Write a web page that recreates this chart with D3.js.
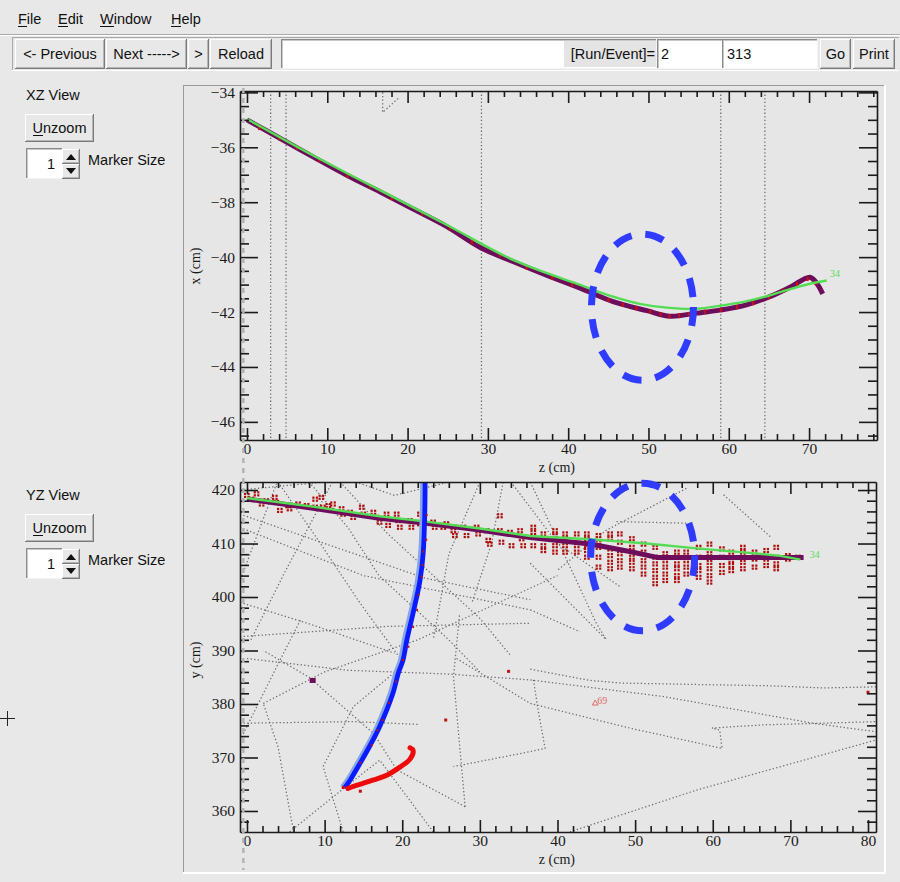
<!DOCTYPE html>
<html>
<head>
<meta charset="utf-8">
<script src="https://cdn.jsdelivr.net/npm/d3@7"></script>
<style>
  body { margin: 0; background: #e8e8e8; }
  svg { display: block; }
</style>
</head>
<body>
<svg id="c" width="900" height="882"></svg>
<script>
// ---------------- event data ----------------
const menuItems = ["File", "Edit", "Window", "Help"];
const navButtons = ["<- Previous", "Next ----->", ">", "Reload"];
const runLabel = "[Run/Event]=";
const runNumber = "2";
const eventNumber = "313";

// axis ticks
const xzTicksZ = [0, 10, 20, 30, 40, 50, 60, 70];
const xzTicksX = [-34, -36, -38, -40, -42, -44, -46];
const yzTicksZ = [0, 10, 20, 30, 40, 50, 60, 70, 80];
const yzTicksY = [360, 370, 380, 390, 400, 410, 420];

// wire-plane positions drawn in the XZ view (cm)
const xzWireZ = [2.95, 4.86, 29.2, 59.0, 64.5];
const xzStub = [[16.9, -34.0], [16.9, -34.73], [18.9, -34.2]];

// reconstructed track, XZ projection
const xzTrackZ = [0, 4.1, 8.3, 12.5, 16.6, 20.7, 24.9, 29.0, 33.2, 37.3, 41.5, 45.6, 49.8, 52.7, 56.0, 58.9, 62.2, 65.1, 67.6, 70.1, 70.9, 71.7];
const xzTrackX = [-35.00, -35.67, -36.36, -37.03, -37.63, -38.25, -38.89, -39.64, -40.17, -40.66, -41.13, -41.62, -41.95, -42.15, -42.04, -41.93, -41.74, -41.44, -41.10, -40.73, -40.93, -41.34];
// fitted trajectory (id 34), XZ projection
const xzFitZ = [0, 8.3, 16.6, 24.9, 33.2, 41.5, 45.6, 48.9, 52.3, 56.0, 58.9, 62.0, 64.3, 67.0, 70.1, 72.2];
const xzFitX = [-34.97, -36.31, -37.57, -38.83, -40.11, -41.01, -41.44, -41.70, -41.84, -41.88, -41.77, -41.62, -41.46, -41.22, -40.97, -40.85];
// hits on the XZ track
const xzHits = [[1.5, -35.30], [4.0, -35.68], [6.2, -36.02], [9.0, -36.47], [12.5, -37.05], [15.3, -37.42], [18.0, -37.85], [21.8, -38.42], [25.3, -38.95], [28.0, -39.45], [31.5, -39.93], [34.8, -40.38], [38.0, -40.75], [40.5, -41.02], [42.8, -41.30], [45.0, -41.56], [46.8, -41.74], [48.5, -41.86], [50.2, -41.98], [51.5, -42.08], [52.6, -42.15], [53.8, -42.12], [55.0, -42.08], [57.0, -41.98], [59.0, -41.92], [61.0, -41.82], [63.0, -41.68], [65.0, -41.46], [66.8, -41.22], [68.5, -40.98], [69.8, -40.80], [70.8, -40.95]];
const xzLabel = [72.6, -40.71, "34"];

// reconstructed track, YZ projection
const yzTrackZ = [0, 8.5, 17.1, 23.1, 30.0, 36.5, 44.2, 49.3, 52.8, 57.9, 64.4, 71.7];
const yzTrackY = [418.3, 416.6, 414.7, 413.8, 412.5, 411.1, 409.9, 408.5, 407.4, 407.4, 407.4, 407.4];
const yzFitZ = [0, 8.5, 17.1, 23.1, 30.0, 36.5, 44.2, 51.5, 57.9, 64.4, 68.7, 71.3];
const yzFitY = [418.5, 416.9, 415.1, 414.1, 412.8, 411.4, 410.8, 410.0, 409.1, 408.3, 407.7, 407.0];
const yzLabel = [72.5, 407.7, "34"];

// steep track (blue) and short shower (red), YZ projection
const blueTrack = [[12.6, 364.4], [13.3, 365.8], [14.6, 369.0], [15.8, 372.1], [17.1, 375.8], [18.8, 382.0], [19.5, 385.8], [20.1, 388.2], [20.6, 392.0], [21.4, 397.0], [22.3, 403.2], [22.7, 408.2], [22.9, 415.6], [22.95, 421.6]];
const blueHits = [[23.15, 415.3], [23.1, 410.7], [22.7, 408.5], [22.6, 406.0], [22.5, 403.8], [22.1, 400.4], [21.9, 397.6], [21.4, 394.4], [20.8, 390.7], [20.1, 388.2], [19.2, 384.2], [18.3, 380.2], [17.5, 377.0], [16.8, 375.1], [16.1, 372.3], [14.6, 369.0]];
const redShower = [[13.0, 364.2], [13.7, 364.6], [14.6, 365.0], [16.3, 365.8], [18.0, 366.7], [19.7, 368.2], [21.0, 369.7], [21.4, 371.3], [21.0, 371.8]];
const isolatedHits = [[33.7, 386.1], [25.6, 377.0], [14.6, 363.7], [80.0, 382.2], [12.4, 364.4]];
const purpleBlob = [8.46, 384.4];
const yzLabel69 = [44.6, 380.3, "69"];

// hit clusters around the YZ track
const yzHits = [
  [0.0, 419.1], [1.25, 419.4], [0.6, 418.4], [1.9, 417.5], [2.5, 418.1], [3.6, 418.75], [3.8, 417.8], [4.25, 416.3],
  [5.3, 417.2], [5.5, 416.6], [6.6, 417.5], [7.7, 417.2], [8.8, 418.4], [8.8, 416.9], [9.6, 418.75], [9.8, 416.9],
  [10.5, 417.2], [10.9, 416.3], [11.1, 417.5], [12.2, 416.6], [12.4, 415.6], [13.3, 415.95], [13.7, 415.0], [14.8, 416.9],
  [15.0, 415.6], [16.3, 415.95], [16.7, 415.0], [17.1, 414.1], [18.0, 415.6], [18.2, 413.5], [19.3, 415.6], [19.5, 414.4],
  [19.7, 413.15], [21.0, 414.4], [21.2, 413.15], [22.3, 415.6], [22.3, 413.8], [24.0, 414.1], [24.2, 413.15], [25.3, 413.15],
  [25.7, 413.8], [26.6, 412.5], [26.8, 411.6], [27.9, 413.15], [28.3, 411.6], [29.6, 413.15], [29.8, 411.9], [30.9, 412.5],
  [31.1, 410.7], [31.3, 410.0], [32.6, 415.3], [32.6, 412.5], [32.8, 410.35], [33.9, 412.2], [34.1, 409.7], [35.2, 412.5],
  [35.4, 411.0], [35.6, 409.7],
  [36.9, 413.15], [36.9, 412.2], [36.9, 411.3], [36.9, 409.7],
  [38.2, 411.9], [38.2, 409.7], [38.2, 408.8],
  [39.7, 412.5], [39.7, 411.6], [39.7, 409.7], [39.7, 408.5],
  [41.0, 411.9], [41.0, 411.0], [41.0, 409.7], [41.0, 408.5],
  [42.5, 411.9], [42.5, 409.7], [42.5, 408.5],
  [43.8, 411.9], [43.8, 411.0], [43.8, 409.7], [43.8, 408.8], [43.8, 407.55],
  [45.3, 411.6], [45.3, 410.35], [45.3, 409.4], [45.3, 407.55], [45.3, 405.7],
  [46.8, 411.9], [46.8, 411.0], [46.8, 409.1], [46.8, 407.85], [46.8, 406.6], [46.8, 405.4],
  [48.05, 411.9], [48.05, 410.35], [48.05, 408.2], [48.05, 406.9], [48.05, 405.7],
  [49.6, 411.0], [49.6, 409.4], [49.6, 407.55], [49.6, 406.6], [49.6, 405.4],
  [51.1, 410.0], [51.1, 408.5], [51.1, 406.9], [51.1, 405.7], [51.1, 404.4],
  [52.6, 409.4], [52.6, 407.55], [52.6, 406.3], [52.6, 405.05], [52.6, 403.8], [52.6, 402.6],
  [53.9, 408.2], [53.9, 406.9], [53.9, 405.7], [53.9, 404.4], [53.9, 403.2],
  [55.4, 408.5], [55.4, 407.55], [55.4, 406.3], [55.4, 405.4], [55.4, 404.1], [55.4, 403.2],
  [56.6, 408.5], [56.6, 406.9], [56.6, 405.7], [56.6, 404.4],
  [58.2, 409.4], [58.2, 407.55], [58.2, 406.0], [58.2, 405.05], [58.2, 403.8],
  [59.6, 410.0], [59.6, 408.2], [59.6, 406.6], [59.6, 405.4], [59.6, 404.1], [59.6, 402.9],
  [61.2, 409.1], [61.2, 407.55], [61.2, 406.0], [61.2, 404.7],
  [62.4, 408.5], [62.4, 406.9], [62.4, 406.0], [62.4, 405.05],
  [63.9, 409.4], [63.9, 408.5], [63.9, 406.6], [63.9, 405.4],
  [65.4, 408.5], [65.4, 407.2], [65.4, 405.7],
  [66.9, 408.8], [66.9, 407.2], [66.9, 406.0],
  [68.2, 409.4], [68.2, 407.55], [68.2, 406.3], [68.2, 405.4],
  [69.7, 407.85], [69.7, 407.2], [71.0, 407.55]
];

// simulated particle trajectories shown in the YZ view (cm)
const yzTrajectories = [
  [[36.5, 386.5], [44.2, 384.4], [48.4, 383.9], [67.4, 383.4], [74.2, 383.0], [81.1, 383.2]],
  [[0.0, 388.5], [13.0, 386.3], [26.0, 385.6], [36.5, 384.5], [53.6, 381.4], [72.9, 376.4], [81.1, 374.8]],
  [[27.0, 388.5], [36.5, 380.1], [49.3, 375.5], [61.2, 371.7], [60.9, 375.1], [59.9, 375.5], [66.5, 376.1], [81.1, 376.7]],
  [[41.6, 356.1], [57.9, 363.9], [81.1, 373.3]],
  [[36.9, 384.5], [37.5, 378.9], [38.4, 371.7], [36.5, 371.1], [26.6, 368.3]],
  [[-0.9, 376.4], [13.7, 376.7], [22.0, 376.2]],
  [[12.4, 356.1], [9.8, 368.3], [13.7, 379.5], [19.5, 386.5]],
  [[5.5, 356.1], [12.6, 364.4]],
  [[24.0, 356.1], [17.1, 369.5], [12.6, 364.4]],
  [[28.1, 360.8], [26.6, 385.1], [27.4, 397.0]],
  [[28.1, 360.8], [19.3, 367.7], [16.3, 374.5], [8.0, 385.0], [2.1, 390.0]],
  [[61.4, 419.1], [67.4, 411.3]],
  [[56.6, 420.3], [46.3, 412.5], [40.0, 405.0]],
  [[36.5, 406.3], [46.3, 392.0]],
  [[36.5, 397.6], [42.9, 393.5]],
  [[36.5, 421.5], [45.0, 395.1], [46.3, 392.0]],
  [[47.6, 414.1], [56.6, 413.8]],
  [[3.8, 421.2], [-0.9, 403.0]],
  [[11.0, 421.5], [5.0, 405.0], [0.5, 392.0]],
  [[-0.9, 413.0], [15.0, 404.0], [36.5, 397.6]],
  [[-0.9, 392.6], [18.0, 394.5], [36.5, 395.1]],
  [[12.0, 421.5], [18.0, 412.0], [30.0, 396.0], [34.0, 389.0]],
  [[6.0, 356.1], [4.0, 372.0], [2.1, 380.1]],
  [[30.0, 421.5], [26.0, 408.0], [24.0, 392.0]],
  [[34.0, 421.5], [40.0, 410.0], [48.0, 402.0]],
  [[-0.9, 420.0], [10.0, 421.5]],
  [[2.1, 380.1], [10.0, 386.0], [22.0, 392.0], [40.0, 404.0]],
  [[-0.9, 415.5], [12.0, 409.0], [23.0, 403.5], [36.5, 399.5]],
  [[4.0, 421.5], [9.0, 411.0], [14.5, 399.0], [20.0, 388.0]],
  [[-0.9, 399.0], [8.0, 395.0], [19.0, 389.5]],
  [[8.0, 421.5], [13.0, 413.0], [17.0, 404.0], [26.0, 392.0], [30.0, 386.0]],
  [[-0.9, 373.2], [4.25, 388.2], [7.0, 396.0]],
  [[33.0, 421.5], [31.5, 410.0], [29.0, 399.0]],
  [[14.0, 421.5], [19.0, 419.0], [26.0, 421.5]]
];

// annotation ellipses: centre and half-axes in data units
const xzEllipse = [49.25, -41.82, 6.35, 2.66];
const yzEllipse = [50.97, 407.48, 6.7, 13.8];
const beamZ = -0.47;

// ---------------- drawing ----------------
const svg = d3.select("#c");
const FONT_UI = "'Liberation Sans', Arial, sans-serif";
const FONT_AX = "'Liberation Serif', 'Times New Roman', serif";
const BG = "#e8e8e8";

svg.append("rect").attr("width", 900).attr("height", 882).attr("fill", BG);

function uline(g, x1, y1, x2, y2, c, w) {
  g.append("line").attr("x1", x1).attr("y1", y1).attr("x2", x2).attr("y2", y2)
    .attr("stroke", c).attr("stroke-width", w || 1).attr("shape-rendering", "crispEdges");
}
function textW(str, size) {
  const t = svg.append("text").attr("font-family", FONT_UI).attr("font-size", size).text(str);
  const w = t.node().getComputedTextLength();
  t.remove();
  return w;
}
// text with its first letter underlined (keyboard hot-key)
function hotText(g, x, y, str, size, anchor) {
  const full = textW(str, size);
  const x0 = anchor === "middle" ? x - full / 2 : x;
  g.append("text").attr("x", x0).attr("y", y).attr("font-family", FONT_UI)
    .attr("font-size", size).attr("fill", "#111").text(str);
  const w = textW(str[0], size);
  uline(g, x0, y + 2.5, x0 + w, y + 2.5, "#111", 1);
}
function raised(g, x, y, w, h) {
  g.append("rect").attr("x", x).attr("y", y).attr("width", w).attr("height", h).attr("fill", BG);
  uline(g, x, y + 0.5, x + w, y + 0.5, "#ffffff");
  uline(g, x + 0.5, y, x + 0.5, y + h, "#ffffff");
  uline(g, x, y + h - 0.5, x + w, y + h - 0.5, "#7a7a7a");
  uline(g, x + w - 0.5, y, x + w - 0.5, y + h, "#7a7a7a");
  uline(g, x + 1, y + h - 1.5, x + w - 1, y + h - 1.5, "#b5b5b5");
  uline(g, x + w - 1.5, y + 1, x + w - 1.5, y + h - 1, "#b5b5b5");
}
function sunken(g, x, y, w, h, fill) {
  g.append("rect").attr("x", x).attr("y", y).attr("width", w).attr("height", h).attr("fill", fill || "#fff");
  uline(g, x, y + 0.5, x + w, y + 0.5, "#8a8a8a");
  uline(g, x + 0.5, y, x + 0.5, y + h, "#8a8a8a");
  uline(g, x + 1, y + 1.5, x + w - 1, y + 1.5, "#c8c8c8");
  uline(g, x + 1.5, y + 1, x + 1.5, y + h - 1, "#c8c8c8");
  uline(g, x, y + h - 0.5, x + w, y + h - 0.5, "#f4f4f4");
  uline(g, x + w - 0.5, y, x + w - 0.5, y + h, "#f4f4f4");
}

// ---- menu bar
const ui = svg.append("g");
const menuX = [18, 58, 100, 171];
menuItems.forEach((m, i) => hotText(ui, menuX[i], 24, m, 14.5));
uline(ui, 0, 34.5, 900, 34.5, "#a9a9a9");
uline(ui, 0, 35.5, 900, 35.5, "#ffffff");

// ---- tool bar
uline(ui, 12, 37.5, 899, 37.5, "#a9a9a9");
uline(ui, 12.5, 37, 12.5, 71, "#a9a9a9");
uline(ui, 12, 70.5, 899, 70.5, "#ffffff");
const navX = [[15, 90], [106, 81], [188, 21], [210, 62]];
navButtons.forEach((b, i) => {
  raised(ui, navX[i][0], 39, navX[i][1], 30);
  ui.append("text").attr("x", navX[i][0] + navX[i][1] / 2).attr("y", 59)
    .attr("text-anchor", "middle").attr("font-family", FONT_UI).attr("font-size", 14.5)
    .attr("fill", "#111").text(b);
});
sunken(ui, 281, 39, 376, 30, "#ffffff");
ui.append("rect").attr("x", 564).attr("y", 41).attr("width", 92).attr("height", 26).attr("fill", "#e4e4e4");
ui.append("text").attr("x", 655).attr("y", 59).attr("text-anchor", "end")
  .attr("font-family", FONT_UI).attr("font-size", 14.5).attr("fill", "#111").text(runLabel);
sunken(ui, 657, 39, 66, 30, "#ffffff");
ui.append("text").attr("x", 661).attr("y", 59).attr("font-family", FONT_UI).attr("font-size", 14.5).attr("fill", "#111").text(runNumber);
sunken(ui, 722, 39, 96, 30, "#ffffff");
ui.append("text").attr("x", 727).attr("y", 59).attr("font-family", FONT_UI).attr("font-size", 14.5).attr("fill", "#111").text(eventNumber);
raised(ui, 820, 39, 31, 30);
ui.append("text").attr("x", 835.5).attr("y", 59).attr("text-anchor", "middle").attr("font-family", FONT_UI).attr("font-size", 14.5).attr("fill", "#111").text("Go");
raised(ui, 853, 39, 42, 30);
ui.append("text").attr("x", 874).attr("y", 59).attr("text-anchor", "middle").attr("font-family", FONT_UI).attr("font-size", 14.5).attr("fill", "#111").text("Print");

// ---- side panels
function sidePanel(y0, title) {
  ui.append("text").attr("x", 26).attr("y", y0).attr("font-family", FONT_UI).attr("font-size", 14.5).attr("fill", "#111").text(title);
  raised(ui, 25, y0 + 14, 69, 28);
  hotText(ui, 59.5, y0 + 33, "Unzoom", 14.5, "middle");
  sunken(ui, 26, y0 + 48, 37, 31, "#ffffff");
  ui.append("text").attr("x", 55).attr("y", y0 + 69).attr("text-anchor", "end").attr("font-family", FONT_UI).attr("font-size", 14.5).attr("fill", "#111").text("1");
  raised(ui, 62, y0 + 49, 18, 15);
  raised(ui, 62, y0 + 64, 18, 15);
  ui.append("path").attr("d", `M66,${y0 + 60}L71,${y0 + 54}L76,${y0 + 60}Z`).attr("fill", "#111");
  ui.append("path").attr("d", `M66,${y0 + 68}L71,${y0 + 74}L76,${y0 + 68}Z`).attr("fill", "#111");
  ui.append("text").attr("x", 88).attr("y", y0 + 65).attr("font-family", FONT_UI).attr("font-size", 14.5).attr("fill", "#111").text("Marker Size");
}
sidePanel(100, "XZ View");
sidePanel(500, "YZ View");

// crosshair cursor at the window edge
uline(ui, 0, 718.5, 15, 718.5, "#222");
uline(ui, 7.5, 711, 7.5, 726, "#222");

// ---- canvas frame
const cv = svg.append("g");
cv.append("rect").attr("x", 183).attr("y", 85).attr("width", 701).attr("height", 787).attr("fill", "#e6e6e6");
uline(cv, 183, 85.5, 884, 85.5, "#9a9a9a");
uline(cv, 183.5, 85, 183.5, 872, "#9a9a9a");
uline(cv, 183, 872.5, 885, 872.5, "#ffffff", 2);
uline(cv, 884.5, 85, 884.5, 873, "#ffffff", 2);

// ---- generic ROOT-like frame with inward ticks on all four sides
function frame(g, xs, ys, xMaj, xMin, yMaj, yMin) {
  const [L, R] = xs.range();
  const [B, T] = ys.range();
  const sty = sel => {
    sel.selectAll("path, line").attr("stroke", "#1a1a1a").attr("stroke-width", 1.6);
    sel.selectAll("text").attr("font-family", FONT_AX).attr("font-size", 15.5).attr("fill", "#1a1a1a");
  };
  g.append("g").attr("transform", `translate(0,${B})`)
    .call(d3.axisBottom(xs).tickValues(xMaj).tickSizeInner(-12).tickSizeOuter(0).tickPadding(3).tickFormat(d3.format("d"))).call(sty);
  g.append("g").attr("transform", `translate(0,${B})`)
    .call(d3.axisBottom(xs).tickValues(xMin).tickSize(-6).tickFormat("")).call(sty).select(".domain").remove();
  g.append("g").attr("transform", `translate(0,${T})`)
    .call(d3.axisTop(xs).tickValues(xMaj).tickSizeInner(-12).tickSizeOuter(0).tickFormat("")).call(sty);
  g.append("g").attr("transform", `translate(0,${T})`)
    .call(d3.axisTop(xs).tickValues(xMin).tickSize(-6).tickFormat("")).call(sty).select(".domain").remove();
  g.append("g").attr("transform", `translate(${L},0)`)
    .call(d3.axisLeft(ys).tickValues(yMaj).tickSizeInner(-18).tickSizeOuter(0).tickPadding(5).tickFormat(d3.format("d"))).call(sty);
  g.append("g").attr("transform", `translate(${L},0)`)
    .call(d3.axisLeft(ys).tickValues(yMin).tickSize(-9).tickFormat("")).call(sty).select(".domain").remove();
  g.append("g").attr("transform", `translate(${R},0)`)
    .call(d3.axisRight(ys).tickValues(yMaj).tickSizeInner(-18).tickSizeOuter(0).tickFormat("")).call(sty);
  g.append("g").attr("transform", `translate(${R},0)`)
    .call(d3.axisRight(ys).tickValues(yMin).tickSize(-9).tickFormat("")).call(sty).select(".domain").remove();
}
function minorTicks(lo, hi, step, majors) {
  const out = [];
  for (let v = Math.ceil(lo / step) * step; v <= hi + 1e-9; v += step) {
    const r = Math.round(v * 100) / 100;
    if (!majors.includes(r)) out.push(r);
  }
  return out;
}
function clip(id, xs, ys) {
  svg.append("clipPath").attr("id", id).append("rect")
    .attr("x", xs.range()[0]).attr("y", ys.range()[1])
    .attr("width", xs.range()[1] - xs.range()[0]).attr("height", ys.range()[0] - ys.range()[1]);
}
const dotted = sel => sel.attr("fill", "none").attr("stroke", "#6a6a6a").attr("stroke-width", 1.25).attr("stroke-dasharray", "1.3,2.3");
function ellipse(g, xs, ys, e) {
  g.append("ellipse").attr("cx", xs(e[0])).attr("cy", ys(e[1]))
    .attr("rx", Math.abs(xs(e[0] + e[2]) - xs(e[0]))).attr("ry", Math.abs(ys(e[1] + e[3]) - ys(e[1])))
    .attr("fill", "none").attr("stroke", "#2f3cff").attr("stroke-width", 7).attr("stroke-dasharray", "19,14");
}

// ================= XZ view =================
const xzZ = d3.scaleLinear().domain([-0.87, 78.46]).range([240, 877]);
const xzX = d3.scaleLinear().domain([-46.66, -33.95]).range([440, 91]);
clip("clipXZ", xzZ, xzX);
const gXZ = svg.append("g");
const pXZ = gXZ.append("g").attr("clip-path", "url(#clipXZ)");

pXZ.selectAll("line.wire").data(xzWireZ).join("line")
  .attr("x1", d => xzZ(d)).attr("x2", d => xzZ(d))
  .attr("y1", xzX.range()[1]).attr("y2", xzX.range()[0]).call(dotted);
pXZ.append("path").attr("d", d3.line().x(d => xzZ(d[0])).y(d => xzX(d[1]))(xzStub)).call(dotted);

const lineXZ = d3.line().x(d => xzZ(d[0])).y(d => xzX(d[1])).curve(d3.curveCatmullRom.alpha(0.5));
pXZ.append("path").attr("d", lineXZ(d3.zip(xzTrackZ, xzTrackX)))
  .attr("fill", "none").attr("stroke", "#6e0d5c").attr("stroke-width", 5).attr("stroke-linejoin", "round");
pXZ.selectAll("rect.hit").data(xzHits).join("rect")
  .attr("x", d => xzZ(d[0]) - 1).attr("y", d => xzX(d[1]) - 2).attr("width", 2.2).attr("height", 4).attr("fill", "#c81010");
pXZ.append("path").attr("d", lineXZ(d3.zip(xzFitZ, xzFitX)))
  .attr("fill", "none").attr("stroke", "#55dc55").attr("stroke-width", 2.4);
pXZ.append("text").attr("x", xzZ(xzLabel[0])).attr("y", xzX(xzLabel[1]))
  .attr("font-family", FONT_AX).attr("font-size", 10).attr("fill", "#55dc55").text(xzLabel[2]);

frame(gXZ, xzZ, xzX, xzTicksZ, minorTicks(0, 78, 2, xzTicksZ), xzTicksX, minorTicks(-46.5, -34, 0.5, xzTicksX));
gXZ.append("text").attr("x", 575).attr("y", 472).attr("text-anchor", "end")
  .attr("font-family", FONT_AX).attr("font-size", 14).attr("fill", "#1a1a1a").text("z (cm)");
gXZ.append("text").attr("transform", "translate(200,266) rotate(-90)").attr("text-anchor", "middle")
  .attr("font-family", FONT_AX).attr("font-size", 14).attr("fill", "#1a1a1a").text("x (cm)");
ellipse(gXZ, xzZ, xzX, xzEllipse);

// ================= YZ view =================
const yzZ = d3.scaleLinear().domain([-0.9, 81.03]).range([240, 876]);
const yzY = d3.scaleLinear().domain([356.07, 421.5]).range([832, 482]);
clip("clipYZ", yzZ, yzY);
const gYZ = svg.append("g");
const pYZ = gYZ.append("g").attr("clip-path", "url(#clipYZ)");
const lineYZ = d3.line().x(d => yzZ(d[0])).y(d => yzY(d[1]));
const smoothYZ = d3.line().x(d => yzZ(d[0])).y(d => yzY(d[1])).curve(d3.curveCatmullRom.alpha(0.5));

pYZ.selectAll("path.traj").data(yzTrajectories).join("path").attr("d", lineYZ).call(dotted);

// hit clusters: a small block of four wire hits each
const hitG = pYZ.selectAll("g.hit").data(yzHits).join("g")
  .attr("transform", d => `translate(${yzZ(d[0])},${yzY(d[1])})`);
[[-3, -2], [0.5, -2], [-3, 1], [0.5, 1]].forEach(o => {
  hitG.append("rect").attr("x", o[0]).attr("y", o[1]).attr("width", 2.2).attr("height", 2.2).attr("fill", "#b00c0c");
});

pYZ.append("path").attr("d", lineYZ(d3.zip(yzTrackZ, yzTrackY)))
  .attr("fill", "none").attr("stroke", "#6e0d5c").attr("stroke-width", 5).attr("stroke-linejoin", "round");
pYZ.append("path").attr("d", lineYZ(d3.zip(yzFitZ, yzFitY)))
  .attr("fill", "none").attr("stroke", "#55dc55").attr("stroke-width", 2.4);
pYZ.append("text").attr("x", yzZ(yzLabel[0])).attr("y", yzY(yzLabel[1]) + 2)
  .attr("font-family", FONT_AX).attr("font-size", 10).attr("fill", "#55dc55").text(yzLabel[2]);

// steep track with its light halo
pYZ.append("path").attr("d", smoothYZ(blueTrack)).attr("transform", "translate(-2,0)")
  .attr("fill", "none").attr("stroke", "#86a6e8").attr("stroke-width", 6);
pYZ.append("path").attr("d", smoothYZ(blueTrack))
  .attr("fill", "none").attr("stroke", "#0a1cff").attr("stroke-width", 4.8);
pYZ.selectAll("rect.bh").data(blueHits).join("rect")
  .attr("x", d => yzZ(d[0]) - 1).attr("y", d => yzY(d[1]) - 1).attr("width", 2).attr("height", 2).attr("fill", "#c01010");
pYZ.append("path").attr("d", smoothYZ(redShower))
  .attr("fill", "none").attr("stroke", "#ee0a0a").attr("stroke-width", 5).attr("stroke-linecap", "round");
pYZ.selectAll("rect.ih").data(isolatedHits).join("rect")
  .attr("x", d => yzZ(d[0]) - 1.5).attr("y", d => yzY(d[1]) - 1.5).attr("width", 3).attr("height", 3).attr("fill", "#c01010");
pYZ.append("rect").attr("x", yzZ(purpleBlob[0]) - 3).attr("y", yzY(purpleBlob[1]) - 2.5)
  .attr("width", 6).attr("height", 5).attr("fill", "#6e0d5c");
pYZ.append("path").attr("d", d3.symbol(d3.symbolTriangle, 14)())
  .attr("transform", `translate(${yzZ(yzLabel69[0]) + 2},${yzY(yzLabel69[1]) + 1})`)
  .attr("fill", "none").attr("stroke", "#e06a6a").attr("stroke-width", 1);
pYZ.append("text").attr("x", yzZ(yzLabel69[0]) + 4).attr("y", yzY(yzLabel69[1]) + 2)
  .attr("font-family", FONT_AX).attr("font-size", 10).attr("fill", "#e06a6a").text(yzLabel69[2]);

frame(gYZ, yzZ, yzY, yzTicksZ, minorTicks(0, 80, 2, yzTicksZ), yzTicksY, minorTicks(358, 420, 2, yzTicksY));
gYZ.append("text").attr("x", 575).attr("y", 864).attr("text-anchor", "end")
  .attr("font-family", FONT_AX).attr("font-size", 14).attr("fill", "#1a1a1a").text("z (cm)");
gYZ.append("text").attr("transform", "translate(200,660) rotate(-90)").attr("text-anchor", "middle")
  .attr("font-family", FONT_AX).attr("font-size", 14).attr("fill", "#1a1a1a").text("y (cm)");
ellipse(gYZ, yzZ, yzY, yzEllipse);

// beam line marker across both views
const bx = yzZ(beamZ);
svg.append("line").attr("x1", bx).attr("x2", bx).attr("y1", 88).attr("y2", 870)
  .attr("stroke", "#b3b3b3").attr("stroke-width", 2.5).attr("stroke-dasharray", "5,5");
</script>
</body>
</html>
